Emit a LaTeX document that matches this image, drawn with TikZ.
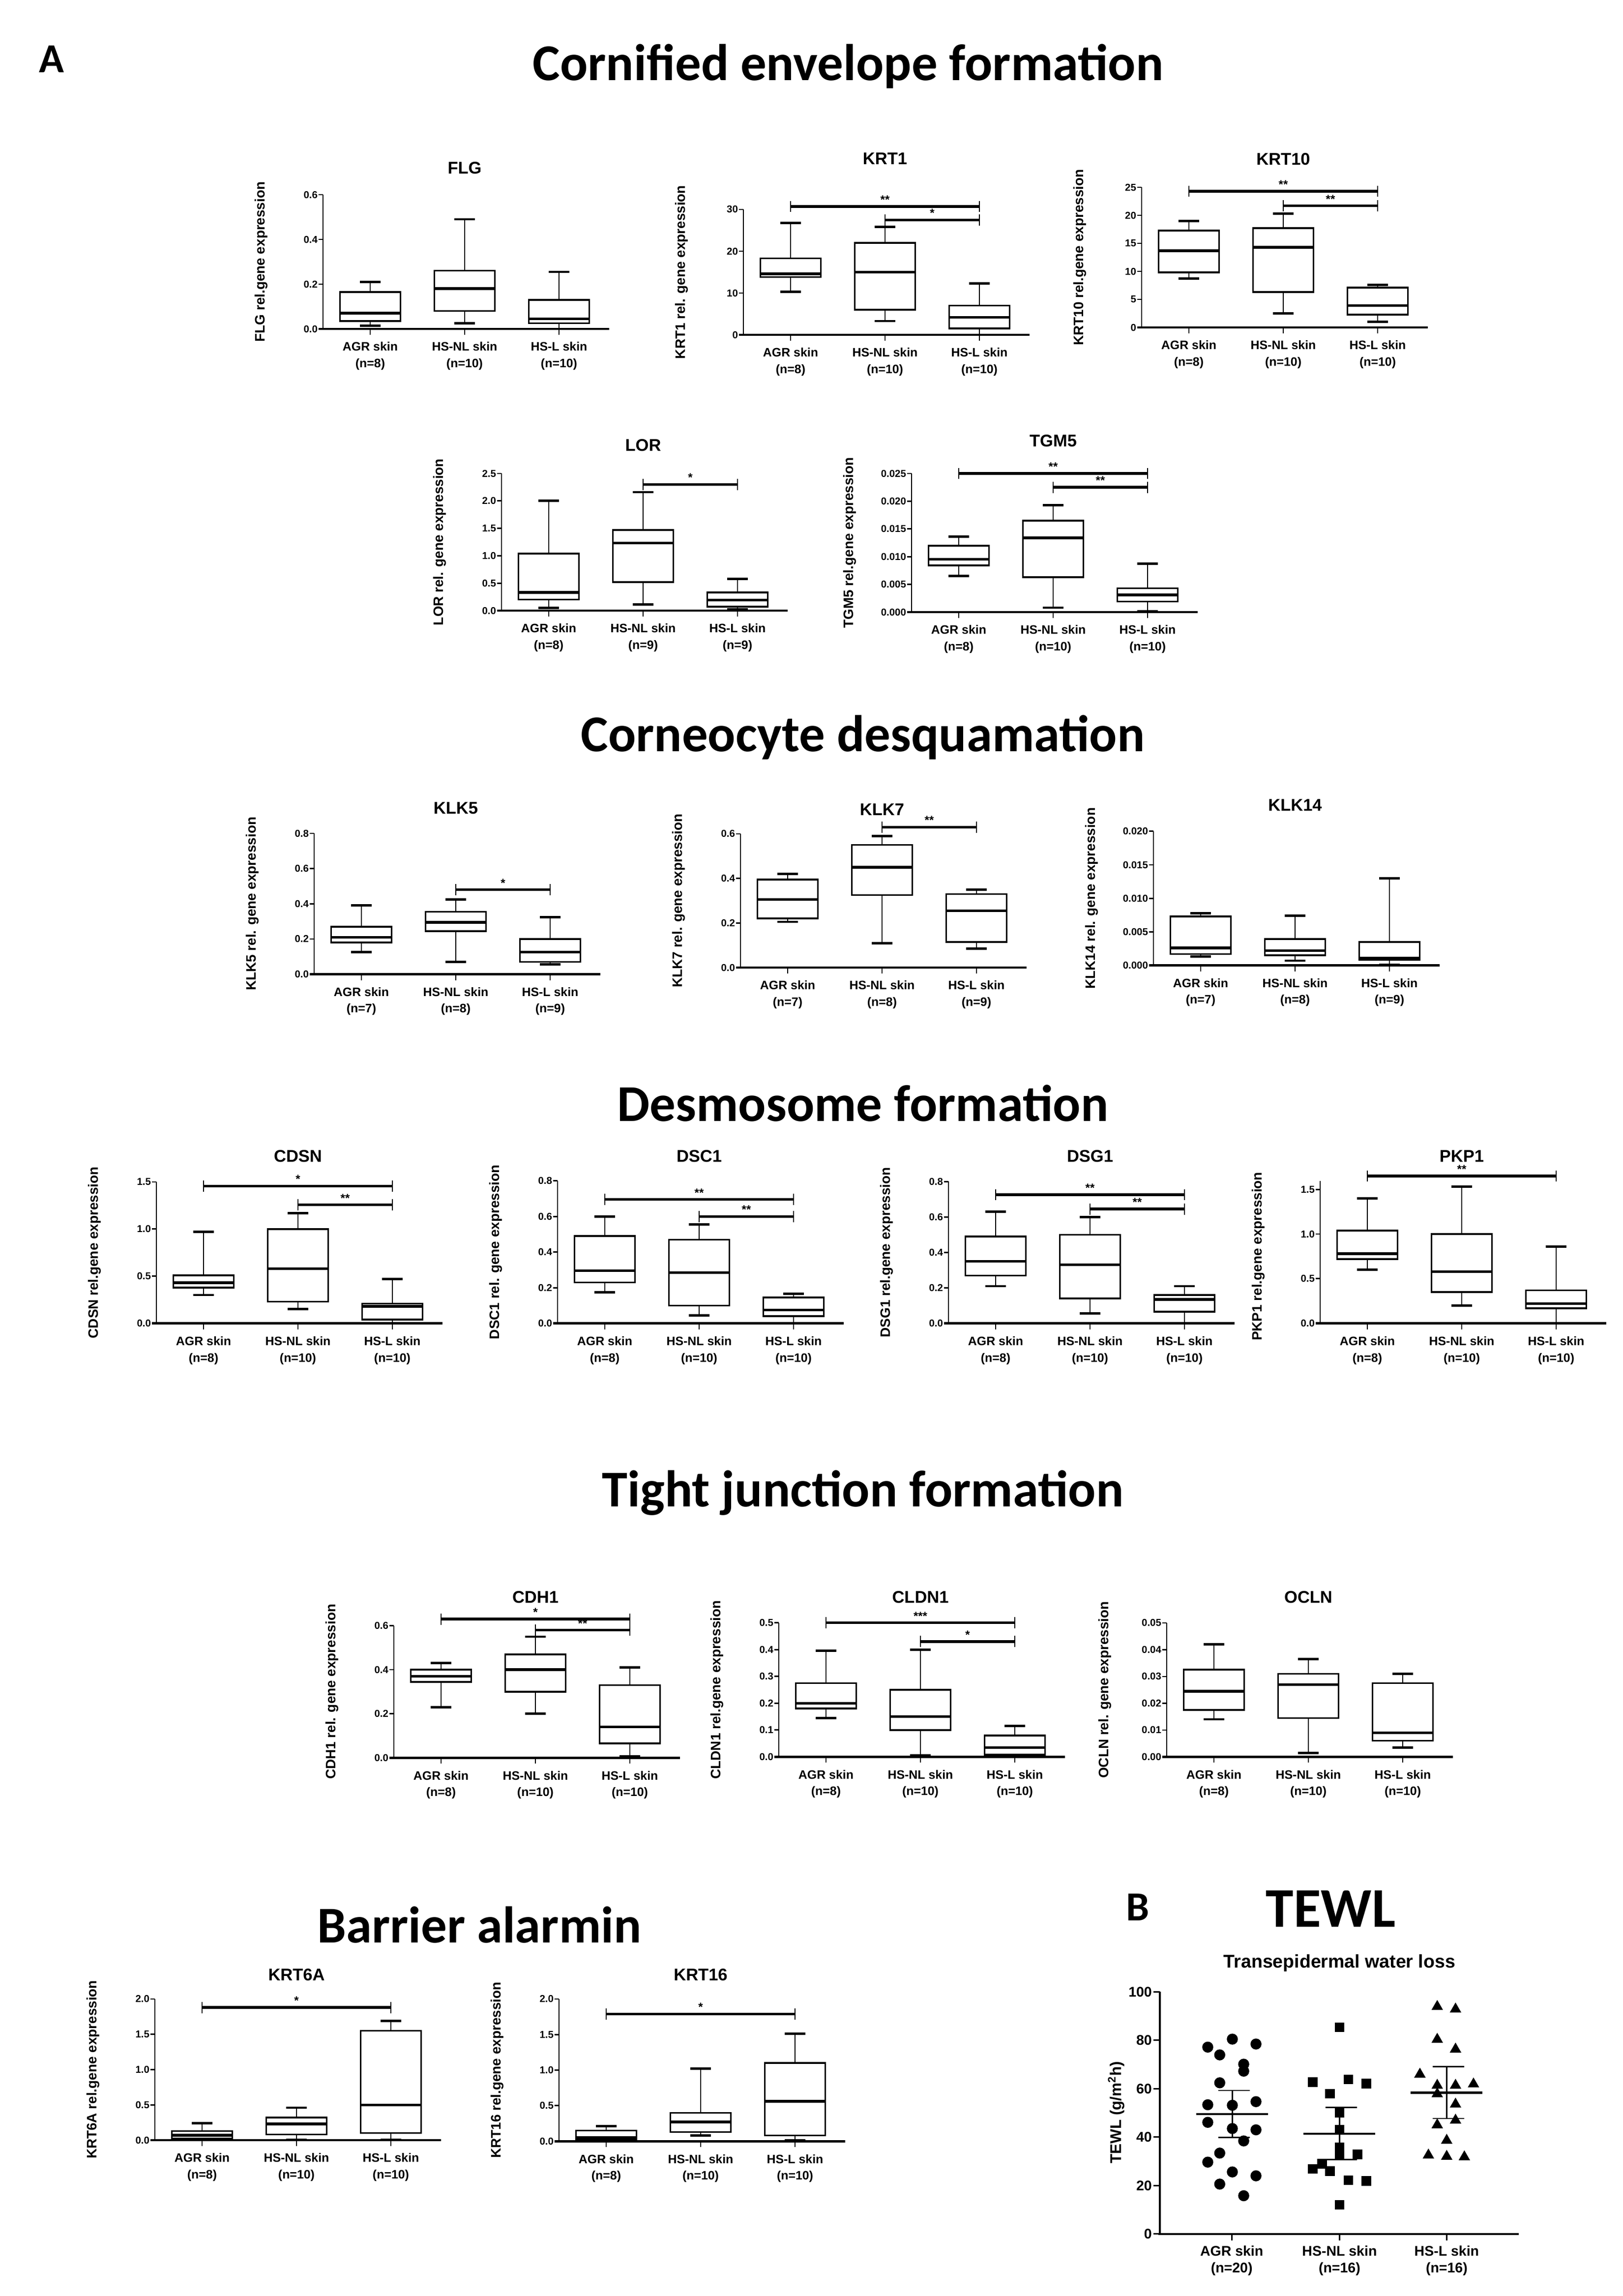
\documentclass[tikz,border=0pt]{standalone}
\usepackage{fontspec}
\setmainfont{Liberation Sans}
\newfontfamily\calf{Carlito}
\usetikzlibrary{shapes.geometric}
\newcommand\setp[4]{\def\px{#1}\def\pyb{#2}\def\pyt{#3}\def\pvmax{#4}}
\newcommand\Yv[2]{\pgfmathsetmacro#1{\pyb-(#2)/\pvmax*(\pyb-\pyt)}}
\newcommand\bx[6]{%
 \pgfmathsetmacro\cx{\px+(#1-0.5)*64}%
 \Yv\ya{#2}\Yv\yb{#3}\Yv\yc{#4}\Yv\yd{#5}\Yv\ye{#6}%
 \draw[wh] (\cx,\ya) -- (\cx,\ye);
 \draw[wcap] (\cx-7,\ya) -- (\cx+7,\ya) (\cx-7,\ye) -- (\cx+7,\ye);
 \draw[boxs] (\cx-20.5,\yb) rectangle (\cx+20.5,\yd);
 \draw[med] (\cx-20.5,\yc) -- (\cx+20.5,\yc);}
\newcommand\sig[4]{%
 \pgfmathsetmacro\xa{\px+(#1-0.5)*64}\pgfmathsetmacro\xb{\px+(#2-0.5)*64}%
 \Yv\ys{#3}%
 \draw[sigl] (\xa,\ys) -- (\xb,\ys);
 \draw[wh] (\xa,\ys-3.8) -- (\xa,\ys+3.8) (\xb,\ys-3.8) -- (\xb,\ys+3.8);
 \node[st,anchor=base] at ({(\xa+\xb)/2},\ys-1.8) {#4};}
\newcommand\fr[7]{%
 \draw[yax] (\px,\pyb) -- (\px,\pyt);
 \draw[xax] (\px-3,\pyb) -- (\px+194,\pyb);
 \foreach \v/\l in {#4} {\Yv\yt{\v}\draw[wh] (\px-3,\yt) -- (\px,\yt); \node[tick,anchor=east] at (\px-3,\yt) {\l};}
 \foreach \g/\n [count=\k] in {AGR skin/#5,HS-NL skin/#6,HS-L skin/#7} {%
   \pgfmathsetmacro\cx{\px+(\k-0.5)*64}%
   \draw[wh] (\cx,\pyb) -- (\cx,\pyb+4);
   \node[xl] at (\cx,\pyb+12) {\g};
   \node[xl] at (\cx,\pyb+24) {(n=\n)};}
 \node[ttl] at (\px+96,#2) {#1};
 \node[yl] at (\px-42,{(\pyb+\pyt)/2}) {#3};}
\begin{document}
\begin{tikzpicture}[x=1pt,y=-1pt,line cap=butt,
 wh/.style={line width=0.9pt},
 wcap/.style={line width=1.6pt},
 boxs/.style={line width=1.2pt,fill=white},
 med/.style={line width=1.8pt},
 sigl/.style={line width=1.8pt},
 yax/.style={line width=0.9pt},
 xax/.style={line width=1.6pt},
 tick/.style={font=\fontsize{6.8}{7}\selectfont\bfseries,inner sep=0.5pt},
 xl/.style={font=\fontsize{8.3}{9}\selectfont\bfseries,inner sep=0pt},
 st/.style={font=\fontsize{8}{8}\selectfont\bfseries,inner sep=0pt},
 ttl/.style={font=\fontsize{11.5}{12}\selectfont\bfseries},
 yl/.style={font=\fontsize{9.3}{9.5}\selectfont\bfseries,rotate=90},
 sec/.style={font=\calf\bfseries\fontsize{35}{35}\selectfont},
 tw/.style={font=\fontsize{9.5}{10}\selectfont\bfseries},
 dot/.style={circle,fill=black,inner sep=0pt,minimum size=7.5pt},
 sqr/.style={rectangle,fill=black,inner sep=0pt,minimum size=6.5pt},
 tri/.style={regular polygon,regular polygon sides=3,fill=black,inner sep=0pt,minimum size=9pt}]
\useasboundingbox (0,0) rectangle (1100.33,1556.67);
\node[font=\calf\bfseries\fontsize{28}{28}\selectfont] (A) at (35,40) {A};
\node[sec] (s1) at (575,45) {Cornified envelope formation};
\node[sec] (s2) at (585,500) {Corneocyte desquamation};
\node[sec] (s3) at (585,748) {Desmosome formation};
\node[sec] (s4) at (585,1012) {Tight junction formation};
\node[sec] (s5) at (325,1305) {Barrier alarmin};
% FLG
\setp{219}{223}{132}{0.6}
\bx{1}{.015}{.035}{.07}{.165}{.21}\bx{2}{.025}{.08}{.18}{.26}{.49}\bx{3}{.0}{.025}{.045}{.13}{.255}
\fr{FLG}{114}{FLG rel.gene expression}{0/0.0,0.2/0.2,0.4/0.4,0.6/0.6}{8}{10}{10}
% KRT1
\setp{504}{227}{142}{30}
\bx{1}{10.3}{13.8}{14.6}{18.3}{26.8}\bx{2}{3.3}{6}{15}{22}{25.8}\bx{3}{0}{1.5}{4.2}{7}{12.3}
\sig{1}{3}{30.7}{**}\sig{2}{3}{27.5}{*}
\fr{KRT1}{107.5}{KRT1 rel. gene expression}{0/0,10/10,20/20,30/30}{8}{10}{10}
% KRT10
\setp{774}{222}{127}{25}
\bx{1}{8.7}{9.8}{13.7}{17.3}{19}\bx{2}{2.5}{6.3}{14.3}{17.7}{20.3}\bx{3}{1}{2.3}{3.9}{7.1}{7.6}
\sig{1}{3}{24.3}{**}\sig{2}{3}{21.7}{**}
\fr{KRT10}{108}{KRT10 rel.gene expression}{0/0,5/5,10/10,15/15,20/20,25/25}{8}{10}{10}
% LOR
\setp{340}{414}{321}{2.5}
\bx{1}{.05}{.2}{.33}{1.04}{2.0}\bx{2}{.11}{.52}{1.23}{1.47}{2.16}\bx{3}{.02}{.07}{.19}{.33}{.58}
\sig{2}{3}{2.3}{*}
\fr{LOR}{302}{LOR rel. gene expression}{0/0.0,0.5/0.5,1/1.0,1.5/1.5,2/2.0,2.5/2.5}{8}{9}{9}
% TGM5
\setp{618}{415}{321}{0.025}
\bx{1}{.0065}{.0084}{.0095}{.012}{.0136}\bx{2}{.0008}{.0063}{.0134}{.0165}{.0193}\bx{3}{.0001}{.0019}{.0031}{.0043}{.0087}
\sig{1}{3}{.025}{**}\sig{2}{3}{.0225}{**}
\fr{TGM5}{299}{TGM5 rel.gene expression}{0/0.000,0.005/0.005,0.01/0.010,0.015/0.015,0.02/0.020,0.025/0.025}{8}{10}{10}
% KLK5
\setp{213}{660.5}{565}{0.8}
\bx{1}{.125}{.18}{.21}{.27}{.39}\bx{2}{.07}{.245}{.295}{.355}{.425}\bx{3}{.055}{.07}{.125}{.2}{.325}
\sig{2}{3}{.48}{*}
\fr{KLK5}{548}{KLK5 rel. gene expression}{0/0.0,0.2/0.2,0.4/0.4,0.6/0.6,0.8/0.8}{7}{8}{9}
% KLK7
\setp{502}{656}{565.3}{0.6}
\bx{1}{.205}{.22}{.305}{.395}{.42}\bx{2}{.11}{.325}{.45}{.55}{.59}\bx{3}{.085}{.115}{.255}{.33}{.35}
\sig{2}{3}{.63}{**}
\fr{KLK7}{549}{KLK7 rel. gene expression}{0/0.0,0.2/0.2,0.4/0.4,0.6/0.6}{7}{8}{9}
% KLK14
\setp{782}{654.5}{563.6}{0.02}
\bx{1}{.0013}{.0017}{.0026}{.0073}{.0078}\bx{2}{.0007}{.0015}{.0022}{.0039}{.0074}\bx{3}{.0001}{.0008}{.0011}{.0035}{.013}
\fr{KLK14}{546}{KLK14 rel. gene expression}{0/0.000,0.005/0.005,0.01/0.010,0.015/0.015,0.02/0.020}{7}{8}{9}
% CDSN
\setp{106}{897.2}{801.3}{1.5}
\bx{1}{.3}{.38}{.43}{.51}{.97}\bx{2}{.15}{.23}{.58}{1.0}{1.17}\bx{3}{0}{.04}{.18}{.21}{.47}
\sig{1}{3}{1.456}{*}\sig{2}{3}{1.257}{**}
\fr{CDSN}{784}{CDSN rel.gene expression}{0/0.0,0.5/0.5,1/1.0,1.5/1.5}{8}{10}{10}
% DSC1
\setp{378}{897.2}{800.6}{0.8}
\bx{1}{.175}{.23}{.295}{.49}{.6}\bx{2}{.045}{.1}{.285}{.47}{.555}\bx{3}{0}{.04}{.075}{.145}{.165}
\sig{1}{3}{.696}{**}\sig{2}{3}{.6}{**}
\fr{DSC1}{784}{DSC1 rel. gene expression}{0/0.0,0.2/0.2,0.4/0.4,0.6/0.6,0.8/0.8}{8}{10}{10}
% DSG1
\setp{643}{897.2}{801.1}{0.8}
\bx{1}{.21}{.27}{.35}{.49}{.63}\bx{2}{.055}{.14}{.33}{.5}{.6}\bx{3}{0}{.065}{.135}{.16}{.21}
\sig{1}{3}{.726}{**}\sig{2}{3}{.645}{**}
\fr{DSG1}{784}{DSG1 rel.gene expression}{0/0.0,0.2/0.2,0.4/0.4,0.6/0.6,0.8/0.8}{8}{10}{10}
% PKP1
\setp{895}{897.2}{806.4}{1.5}
\draw[yax] (895,806.4) -- (895,800.5);
\bx{1}{.6}{.72}{.78}{1.04}{1.4}\bx{2}{.2}{.35}{.58}{1.0}{1.53}\bx{3}{0}{.17}{.22}{.37}{.86}
\sig{1}{3}{1.65}{**}
\fr{PKP1}{784}{PKP1 rel.gene expression}{0/0.0,0.5/0.5,1/1.0,1.5/1.5}{8}{10}{10}
% CDH1
\setp{267}{1191.7}{1102.2}{0.6}
\bx{1}{.23}{.345}{.37}{.4}{.43}\bx{2}{.2}{.3}{.4}{.47}{.55}\bx{3}{.005}{.065}{.14}{.33}{.41}
\sig{1}{3}{.63}{*}\sig{2}{3}{.58}{**}
\fr{CDH1}{1083}{CDH1 rel. gene expression}{0/0.0,0.2/0.2,0.4/0.4,0.6/0.6}{8}{10}{10}
% CLDN1
\setp{528}{1191.1}{1100.2}{0.5}
\bx{1}{.145}{.18}{.2}{.275}{.395}\bx{2}{.005}{.1}{.15}{.25}{.4}\bx{3}{0}{.008}{.035}{.08}{.115}
\sig{1}{3}{.5}{***}\sig{2}{3}{.43}{*}
\fr{CLDN1}{1083}{CLDN1 rel.gene expression}{0/0.0,0.1/0.1,0.2/0.2,0.3/0.3,0.4/0.4,0.5/0.5}{8}{10}{10}
% OCLN
\setp{791}{1191.1}{1100.3}{0.05}
\bx{1}{.014}{.0175}{.0245}{.0325}{.042}\bx{2}{.0015}{.0145}{.027}{.031}{.0365}\bx{3}{.0035}{.006}{.009}{.0275}{.031}
\fr{OCLN}{1083}{OCLN rel. gene expression}{0/0.00,0.01/0.01,0.02/0.02,0.03/0.03,0.04/0.04,0.05/0.05}{8}{10}{10}
% KRT6A
\setp{105}{1451}{1355.3}{2.0}
\bx{1}{0}{.02}{.07}{.13}{.24}\bx{2}{.005}{.08}{.23}{.32}{.46}\bx{3}{.005}{.1}{.5}{1.55}{1.69}
\sig{1}{3}{1.88}{*}
\fr{KRT6A}{1339}{KRT6A rel.gene expression}{0/0.0,0.5/0.5,1/1.0,1.5/1.5,2/2.0}{8}{10}{10}
% KRT16
\setp{379}{1451.7}{1355.3}{2.0}
\bx{1}{0}{.02}{.05}{.15}{.21}\bx{2}{.08}{.13}{.27}{.4}{1.02}\bx{3}{.01}{.08}{.56}{1.1}{1.51}
\sig{1}{3}{1.79}{*}
\fr{KRT16}{1339}{KRT16 rel.gene expression}{0/0.0,0.5/0.5,1/1.0,1.5/1.5,2/2.0}{8}{10}{10}
% TEWL
\begin{scope}[shift={(750,1283.33)},xscale=0.2137,yscale=0.1752]
\node[font=\calf\bfseries\fontsize{28}{28}\selectfont] (B) at (100,55) {B};
\node[font=\calf\bfseries\fontsize{38}{38}\selectfont] (tw) at (712,62) {TEWL};
\node[font=\fontsize{12.5}{13}\selectfont\bfseries] (twt) at (740,272) {Transepidermal water loss};
\draw[line width=1.1pt] (170,383) -- (170,1320);
\draw[line width=1.3pt] (165,1320) -- (1308,1320);
\foreach \v in {0,20,40,60,80,100}{\draw[line width=1.1pt] (150,1320-\v*9.37) -- (170,1320-\v*9.37);
 \node[tw,anchor=east,inner sep=0.5pt] at (148,1320-\v*9.37) {\v};}
\foreach \x/\g/\n in {398/AGR skin/20,740/HS-NL skin/16,1080/HS-L skin/16}{
 \draw[line width=1.1pt] (\x,1320) -- (\x,1345);
 \node[tw] at (\x,1385) {\g};
 \node[tw] at (\x,1455) {(n=\n)};}
\node[font=\fontsize{10.5}{11}\selectfont\bfseries,rotate=90] (tyl) at (32,850) {TEWL (g/m\textsuperscript{2}h)};
\foreach \a/\b in {322/597,360/627,400/566,475/585,436/663,436/690,360/735,322/820,400/822,475/808,322/888,400/912,475/917,436/960,360/1007,322/1042,400/1080,475/1095,360/1127,436/1172}
 \node[dot] at (\a,\b) {};
\foreach \a/\b in {740/520,655/732,768/722,825/738,710/777,740/850,740/917,740/985,740/1010,797/1012,685/1048,655/1068,710/1077,768/1112,825/1115,740/1207}
 \node[sqr] at (\a,\b) {};
\foreach \a/\b in {1050/440,1108/450,1050/567,1108/605,995/702,1050/745,1108/745,1165/740,1050/778,1108/818,1108/880,1050/898,1080/958,1022/1015,1080/1020,1136/1022}
 \node[tri] at (\a,\b) {};
\foreach \c/\m/\lo/\hi in {400/856/765/947,740/932/831/1032,1080/773/672/873}{
 \draw[line width=1.5pt] (\c-115,\m) -- (\c+113,\m);
 \draw[line width=0.9pt] (\c-45,\lo) -- (\c+55,\lo) (\c-45,\hi) -- (\c+55,\hi) (\c,\lo) -- (\c,\hi);}
\end{scope}
\end{tikzpicture}
\end{document}
